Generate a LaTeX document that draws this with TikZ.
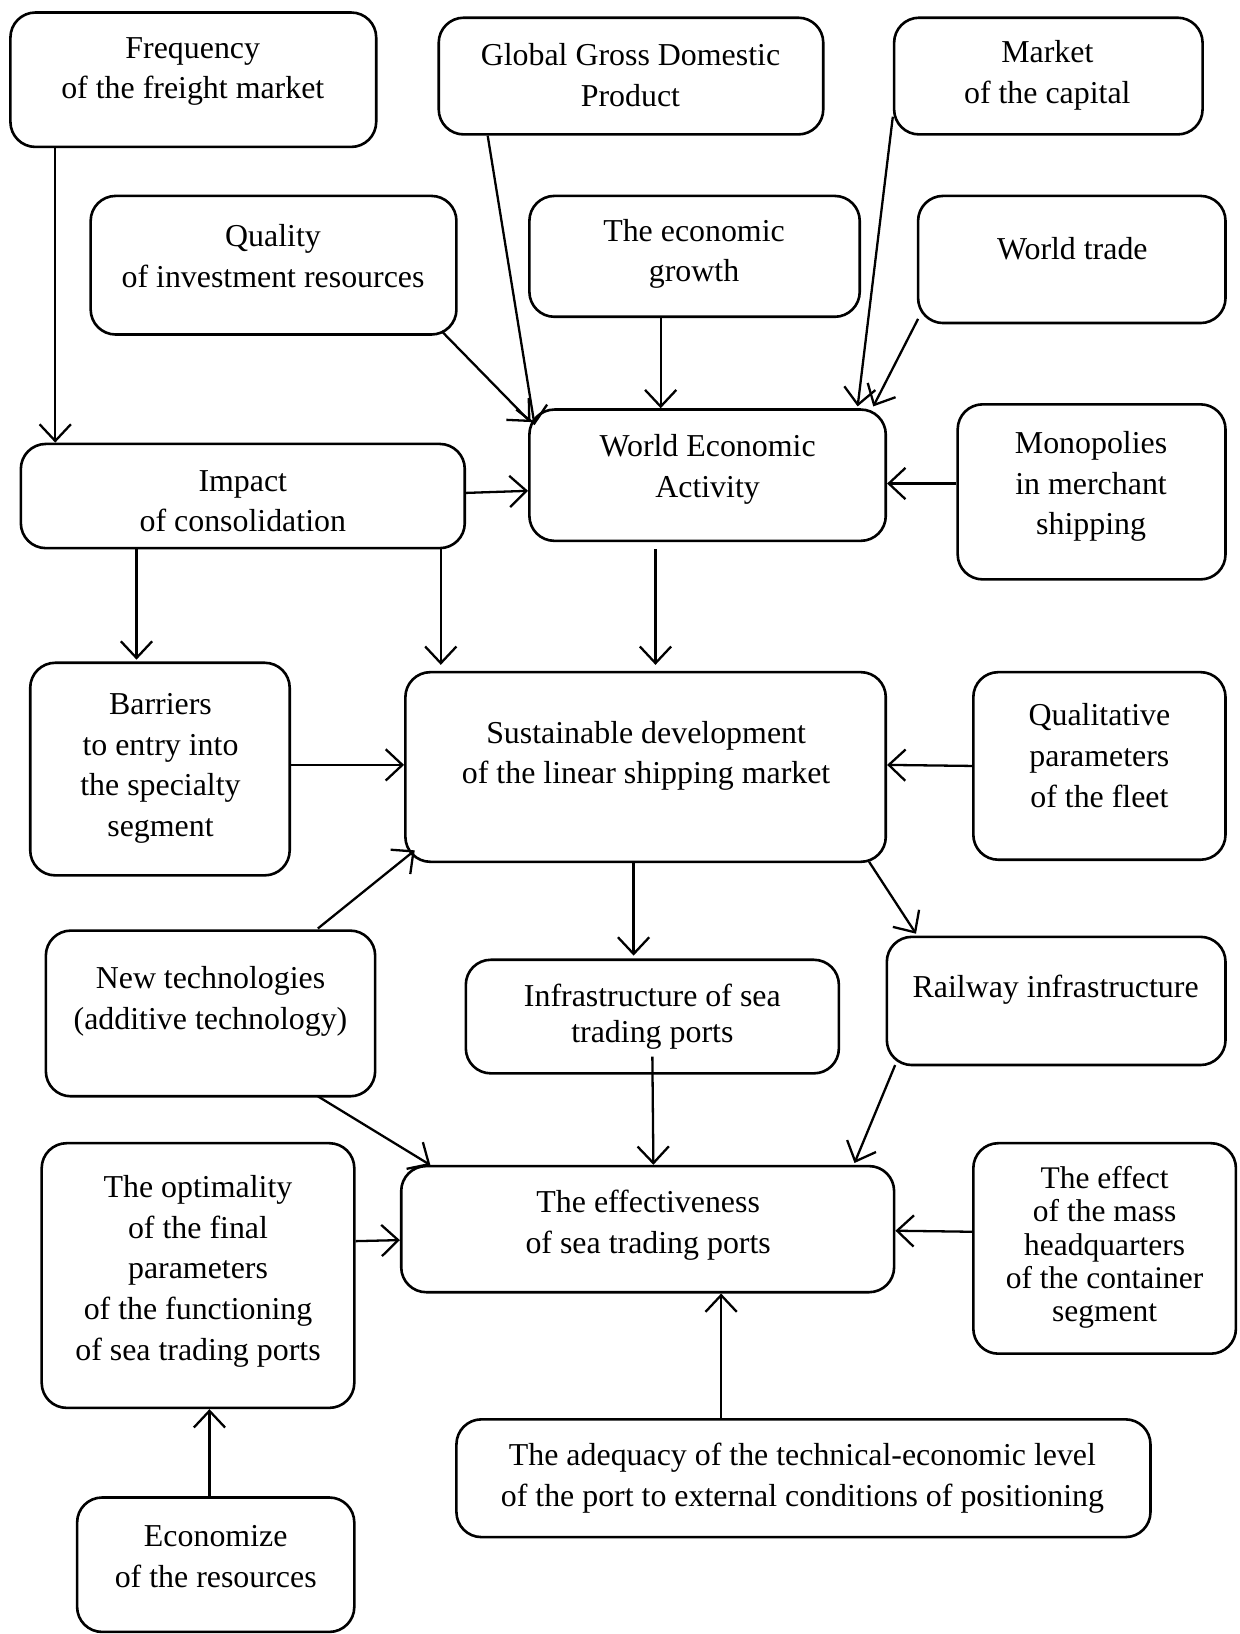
\documentclass[tikz,border=0pt]{standalone}
\usepackage{fontspec}
\setmainfont{Liberation Serif}
\usetikzlibrary{arrows.meta,fit}
\tikzset{
  box/.style={draw, line width=1.25pt, rounded corners=12pt, inner sep=0pt},
  txt/.style={align=center, inner sep=0pt, font=\fontsize{15.3}{19.5}\selectfont},
  txtb/.style={align=center, inner sep=0pt, font=\fontsize{15.1}{16}\selectfont},
  arr/.style={line width=1.1pt, -{Straight Barb[length=8pt,width=15pt,line width=1.1pt]}}
}
\begin{document}
\begin{tikzpicture}[x=0.5pt,y=-0.5pt]
\useasboundingbox (0,0) rectangle (1189,1568);
% boxes
\node[box, fit={(10,12) (361,141)}] (frq) {};
\node[box, fit={(421,17) (790,129)}] (gdp) {};
\node[box, fit={(858,17) (1154,129)}] (cap) {};
\node[box, fit={(87,188) (438,321)}] (qual) {};
\node[box, fit={(508,188) (825,304)}] (grow) {};
\node[box, fit={(881,188) (1176,310)}] (trade) {};
\node[box, fit={(20,426) (446,526)}] (imp) {};
\node[box, fit={(508,393) (850,519)}] (wea) {};
\node[box, fit={(919,388) (1176,556)}] (mono) {};
\node[box, fit={(29,636) (278,840)}] (bar) {};
\node[box, fit={(389,645) (850,827)}] (sus) {};
\node[box, fit={(934,645) (1176,825)}] (qlt) {};
\node[box, fit={(44,893) (360,1052)}] (newt) {};
\node[box, fit={(447,921) (805,1030)}] (infra) {};
\node[box, fit={(851,899) (1176,1022)}] (rail) {};
\node[box, fit={(40,1097) (340,1351)}] (opt) {};
\node[box, fit={(385,1119) (858,1240)}] (eff) {};
\node[box, fit={(934,1097) (1186,1299)}] (hq) {};
\node[box, fit={(438,1362) (1104,1475)}] (adeq) {};
\node[box, fit={(74,1437) (340,1566)}] (econ) {};
% texts
\node[txt] (t1) at (185,68.5) {Frequency\\of the freight market};
\node[txt] (t2) at (605,72) {Global Gross Domestic\\Product};
\node[txt] (t3) at (1005,72) {Market\\of the capital};
\node[txt] (t4) at (262,246) {Quality\\of investment resources};
\node[txt] (t5) at (666,243.5) {The economic\\growth};
\node[txt] (t6) at (1029,239) {World trade};
\node[txt] (t7) at (233,481) {Impact\\of consolidation};
\node[txt] (t8) at (679,450.5) {World Economic\\Activity};
\node[txt] (t9) at (1047,467) {Monopolies\\in merchant\\shipping};
\node[txt] (t10) at (154,737.5) {Barriers\\to entry into\\the specialty\\segment};
\node[txt] (t11) at (620,725.5) {Sustainable development\\of the linear shipping market};
\node[txt] (t12) at (1055,725) {Qualitative\\parameters\\of the fleet};
\node[txt] (t13) at (202,961) {New technologies\\(additive technology)};
\node[txt, font=\fontsize{15.3}{17.5}\selectfont] (t14) at (626,975.5) {Infrastructure of sea\\trading ports};
\node[txt] (t15) at (1013,949.5) {Railway infrastructure};
\node[txt] (t16) at (190,1220) {The optimality\\of the final\\parameters\\of the functioning\\of sea trading ports};
\node[txt] (t17) at (622,1176) {The effectiveness\\of sea trading ports};
\node[txtb] (t18) at (1060,1197) {The effect\\of the mass\\headquarters\\of the container\\segment};
\node[txt] (t19) at (770,1418.5) {The adequacy of the technical-economic level\\of the port to external conditions of positioning};
\node[txt] (t20) at (207,1494) {Economize\\of the resources};
% connectors
\draw[arr] (frq.south -| 53,0) -- (imp.north -| 53,0);
\draw[arr] (gdp.south -| 468,0) -- (513,408);
\draw[arr] (424,318) -- (509,405);
\draw[arr] (grow.south -| 634,0) -- (wea.north -| 634,0);
\draw[arr] (cap.west |- 0,112) -- (823,390);
\draw[arr] (881,306) -- (838,390);
\draw[arr] (mono.west |- 0,464) -- (wea.east |- 0,464);
\draw[arr] (imp.east |- 0,473) -- (wea.west |- 0,471);
\draw[arr] (imp.south -| 131,0) -- (131,633);
\draw[arr] (imp.south -| 423,0) -- (423,638);
\draw[arr] (629,527) -- (629,638);
\draw[arr] (bar.east |- 0,734) -- (sus.west |- 0,734);
\draw[arr] (qlt.west |- 0,735) -- (sus.east |- 0,734);
\draw[arr] (305,891) -- (398,816);
\draw[arr] (sus.south -| 608,0) -- (608,917);
\draw[arr] (834,827) -- (879,896);
\draw[arr] (305,1052) -- (413,1118);
\draw[arr] (626,1014) -- (eff.north -| 627,0);
\draw[arr] (859,1022) -- (820,1116);
\draw[arr] (opt.east |- 0,1191) -- (eff.west |- 0,1190);
\draw[arr] (hq.west |- 0,1182) -- (eff.east |- 0,1181);
\draw[arr] (adeq.north -| 692,0) -- (eff.south -| 692,0);
\draw[arr] (econ.north -| 201,0) -- (opt.south -| 201,0);
\end{tikzpicture}
\end{document}
